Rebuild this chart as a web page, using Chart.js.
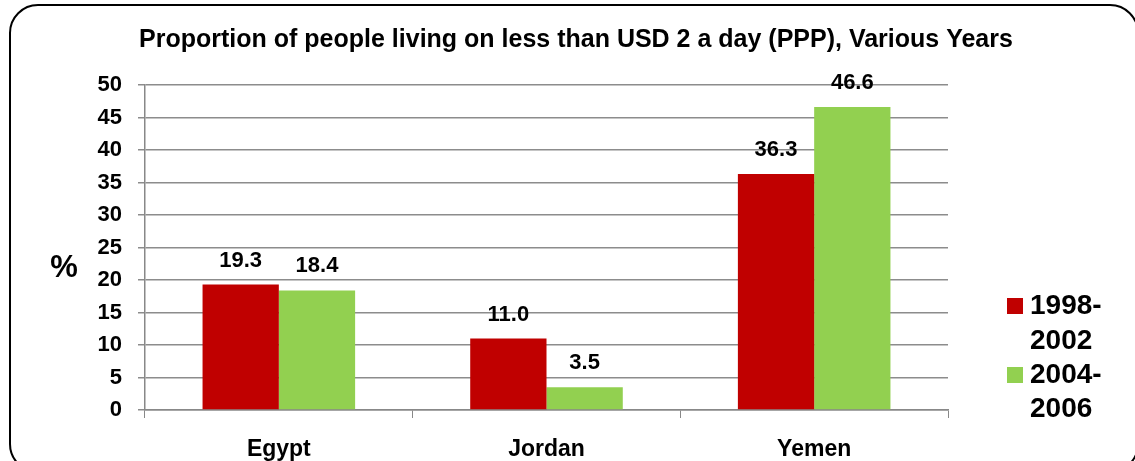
<!DOCTYPE html>
<html>
<head>
<meta charset="utf-8">
<script src="https://cdn.jsdelivr.net/npm/chart.js@4"></script>
<style>
  html, body { margin: 0; padding: 0; background: #fff; }
  #wrap { width: 1135px; height: 461px; position: relative; }
</style>
</head>
<body>
<div id="wrap"><canvas id="povertyChart"></canvas></div>
<script>
const countries = ['Egypt', 'Jordan', 'Yemen'];
const seriesNames = [['1998-', '2002'], ['2004-', '2006']];
const period1 = [19.3, 11.0, 36.3];
const period2 = [18.4, 3.5, 46.6];
const seriesColors = ['#C00000', '#92D050'];
const yTicks = [0, 5, 10, 15, 20, 25, 30, 35, 40, 45, 50];
const chartTitle = 'Proportion of people living on less than USD 2 a day (PPP), Various Years';

const FONT = '"Liberation Sans", Arial, sans-serif';

// frame, title, "%" label, value labels and legend
const extras = {
  id: 'extras',
  beforeDraw(chart) {
    const c = chart.ctx;
    c.save();
    c.strokeStyle = '#000';
    c.lineWidth = 2;
    c.beginPath();
    c.roundRect(10, 5, 1128, 467, 28);
    c.stroke();
    c.fillStyle = '#000';
    c.textAlign = 'center';
    c.textBaseline = 'middle';
    c.font = 'bold 25px ' + FONT;
    c.fillText(chartTitle, 576, 40);
    c.restore();
  },
  afterDatasetsDraw(chart) {
    const c = chart.ctx;
    c.save();
    c.fillStyle = '#000';
    c.textAlign = 'center';
    c.textBaseline = 'middle';
    c.font = 'bold 22px ' + FONT;
    chart.data.datasets.forEach((ds, i) => {
      chart.getDatasetMeta(i).data.forEach((bar, j) => {
        c.fillText(ds.data[j].toFixed(1), bar.x, bar.y - 24);
      });
    });
    // axis unit
    c.font = 'bold 31px ' + FONT;
    c.fillText('%', 64, 268);
    // legend
    const rows = [[298, 306, 341], [367, 375, 409]];
    chart.data.datasets.forEach((ds, i) => {
      const r = rows[i];
      c.fillStyle = ds.backgroundColor;
      c.fillRect(1007, r[0], 16, 16);
      c.fillStyle = '#000';
      c.textAlign = 'left';
      c.font = 'bold 28px ' + FONT;
      c.fillText(seriesNames[i][0], 1030, r[1]);
      c.fillText(seriesNames[i][1], 1030, r[2]);
    });
    c.restore();
  }
};

new Chart(document.getElementById('povertyChart'), {
  type: 'bar',
  data: {
    labels: countries,
    datasets: [
      { label: seriesNames[0].join(''), data: period1, backgroundColor: seriesColors[0] },
      { label: seriesNames[1].join(''), data: period2, backgroundColor: seriesColors[1] }
    ]
  },
  options: {
    responsive: true,
    maintainAspectRatio: false,
    animation: false,
    devicePixelRatio: 1,
    categoryPercentage: 0.57,
    barPercentage: 1.0,
    layout: { padding: { left: 0, right: 187, top: 85, bottom: 0 } },
    plugins: {
      legend: { display: false },
      tooltip: { enabled: false },
      title: { display: false }
    },
    scales: {
      x: {
        grid: { display: true, drawOnChartArea: false, offset: true, color: '#888', tickLength: 8 },
        border: { color: '#888', width: 1.5 },
        ticks: { color: '#000', font: { family: FONT, size: 23, weight: 'bold' }, padding: 18 },
        afterFit(scale) { scale.height = 51; }
      },
      y: {
        min: 0,
        max: 50,
        afterBuildTicks(scale) { scale.ticks = yTicks.map(v => ({ value: v })); },
        grid: { color: '#8c8c8c', lineWidth: 1.5, tickLength: 7 },
        border: { color: '#888', width: 1.5 },
        ticks: { color: '#000', font: { family: FONT, size: 22, weight: 'bold' }, padding: 16 },
        afterFit(scale) { scale.width = 145; }
      }
    }
  },
  plugins: [extras]
});
</script>
</body>
</html>
